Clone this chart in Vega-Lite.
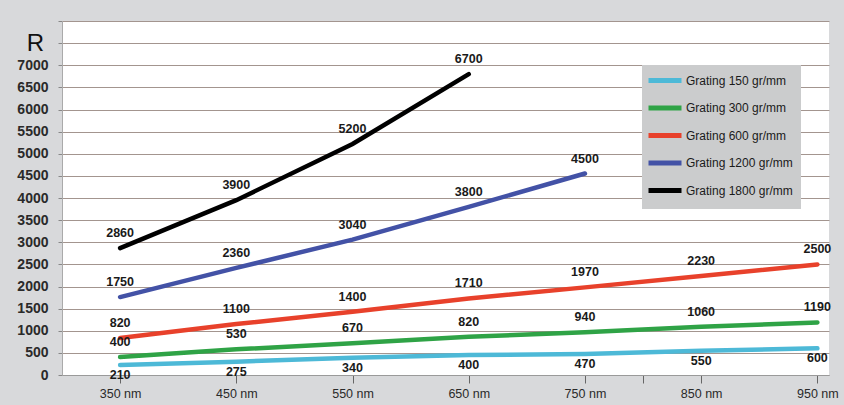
{
  "$schema": "https://vega.github.io/schema/vega-lite/v6.json",
  "width": 767,
  "height": 354,
  "autosize": "none",
  "padding": {"left": 62, "top": 21, "right": 15, "bottom": 30},
  "background": "#d8d9db",
  "config": {"view": {"fill": "white", "stroke": null}, "font": "Liberation Sans"},
  "data": {"values": [
    {"series": "Grating 150 gr/mm", "nm": 350, "R": 226, "label": "210"},
    {"series": "Grating 150 gr/mm", "nm": 450, "R": 300, "label": "275"},
    {"series": "Grating 150 gr/mm", "nm": 550, "R": 391, "label": "340"},
    {"series": "Grating 150 gr/mm", "nm": 650, "R": 451, "label": "400"},
    {"series": "Grating 150 gr/mm", "nm": 750, "R": 474, "label": "470"},
    {"series": "Grating 150 gr/mm", "nm": 850, "R": 549, "label": "550"},
    {"series": "Grating 150 gr/mm", "nm": 950, "R": 602, "label": "600"},
    {"series": "Grating 300 gr/mm", "nm": 350, "R": 406, "label": "400"},
    {"series": "Grating 300 gr/mm", "nm": 450, "R": 580, "label": "530"},
    {"series": "Grating 300 gr/mm", "nm": 550, "R": 715, "label": "670"},
    {"series": "Grating 300 gr/mm", "nm": 650, "R": 865, "label": "820"},
    {"series": "Grating 300 gr/mm", "nm": 750, "R": 964, "label": "940"},
    {"series": "Grating 300 gr/mm", "nm": 850, "R": 1091, "label": "1060"},
    {"series": "Grating 300 gr/mm", "nm": 950, "R": 1189, "label": "1190"},
    {"series": "Grating 600 gr/mm", "nm": 350, "R": 835, "label": "820"},
    {"series": "Grating 600 gr/mm", "nm": 450, "R": 1151, "label": "1100"},
    {"series": "Grating 600 gr/mm", "nm": 550, "R": 1430, "label": "1400"},
    {"series": "Grating 600 gr/mm", "nm": 650, "R": 1731, "label": "1710"},
    {"series": "Grating 600 gr/mm", "nm": 750, "R": 1980, "label": "1970"},
    {"series": "Grating 600 gr/mm", "nm": 850, "R": 2235, "label": "2230"},
    {"series": "Grating 600 gr/mm", "nm": 950, "R": 2499, "label": "2500"},
    {"series": "Grating 1200 gr/mm", "nm": 350, "R": 1761, "label": "1750"},
    {"series": "Grating 1200 gr/mm", "nm": 450, "R": 2420, "label": "2360"},
    {"series": "Grating 1200 gr/mm", "nm": 550, "R": 3060, "label": "3040"},
    {"series": "Grating 1200 gr/mm", "nm": 650, "R": 3800, "label": "3800"},
    {"series": "Grating 1200 gr/mm", "nm": 750, "R": 4553, "label": "4500"},
    {"series": "Grating 1800 gr/mm", "nm": 350, "R": 2868, "label": "2860"},
    {"series": "Grating 1800 gr/mm", "nm": 450, "R": 3951, "label": "3900"},
    {"series": "Grating 1800 gr/mm", "nm": 550, "R": 5220, "label": "5200"},
    {"series": "Grating 1800 gr/mm", "nm": 650, "R": 6800, "label": "6700"}
  ]},
  "encoding": {
    "x": {
      "field": "nm", "type": "quantitative",
      "scale": {"domain": [300, 960], "nice": false, "zero": false},
      "axis": {
        "values": [350, 450, 550, 650, 750, 800, 850, 950],
        "labelExpr": "datum.value == 800 ? '' : datum.value + ' nm'",
        "grid": false, "tickSize": 8, "tickColor": "#666666", "domainColor": "#9a9a9a",
        "labelPadding": 4, "labelFontSize": 12.5, "labelColor": "#2a2a2a", "labelDx": 6,
        "labelFlush": false, "title": null
      }
    },
    "y": {
      "field": "R", "type": "quantitative",
      "scale": {"domain": [0, 8000], "nice": false},
      "axis": {
        "values": [0, 500, 1000, 1500, 2000, 2500, 3000, 3500, 4000, 4500, 5000, 5500, 6000, 6500, 7000, 7500, 8000],
        "format": "d",
        "labelExpr": "datum.value > 7000 ? '' : datum.label",
        "grid": true, "gridColor": "#a3958f", "gridWidth": 1,
        "domainColor": "#aaaaaa", "tickColor": "#888888", "tickSize": 4,
        "labelPadding": 10, "labelFontSize": 14, "labelFontWeight": "bold", "labelColor": "#2a2a2a",
        "title": "R", "titleAngle": 0, "titleX": -27, "titleY": 22, "titleFontSize": 24,
        "titleFontWeight": "normal", "titleAlign": "center", "titleBaseline": "middle", "titleColor": "#111111"
      }
    }
  },
  "layer": [
    {
      "mark": {"type": "line", "strokeWidth": 4.5, "strokeCap": "round"},
      "encoding": {
        "color": {
          "field": "series", "type": "nominal",
          "scale": {
            "domain": ["Grating 150 gr/mm", "Grating 300 gr/mm", "Grating 600 gr/mm", "Grating 1200 gr/mm", "Grating 1800 gr/mm"],
            "range": ["#4db9d7", "#2fa346", "#e8412b", "#4352a6", "#000000"]
          },
          "legend": {
            "orient": "none", "legendX": 580, "legendY": 44, "title": null,
            "fillColor": "#cbcccd", "padding": 8, "symbolType": "M-1.8,0H4.8", "symbolStrokeWidth": 5,
            "symbolSize": 100, "labelFontSize": 12, "labelColor": "#1a1a1a", "labelOffset": 21,
            "rowPadding": 6.5, "labelLimit": 200
          }
        }
      }
    },
    {
      "transform": [{"filter": "datum.series !== 'Grating 150 gr/mm'"}],
      "mark": {"type": "text", "dy": -15, "fontWeight": "bold", "fontSize": 12.5, "color": "#1a1a1a"},
      "encoding": {"text": {"field": "label"}}
    },
    {
      "transform": [{"filter": "datum.series === 'Grating 150 gr/mm'"}],
      "mark": {"type": "text", "dy": 10, "fontWeight": "bold", "fontSize": 12.5, "color": "#1a1a1a"},
      "encoding": {"text": {"field": "label"}}
    }
  ]
}
